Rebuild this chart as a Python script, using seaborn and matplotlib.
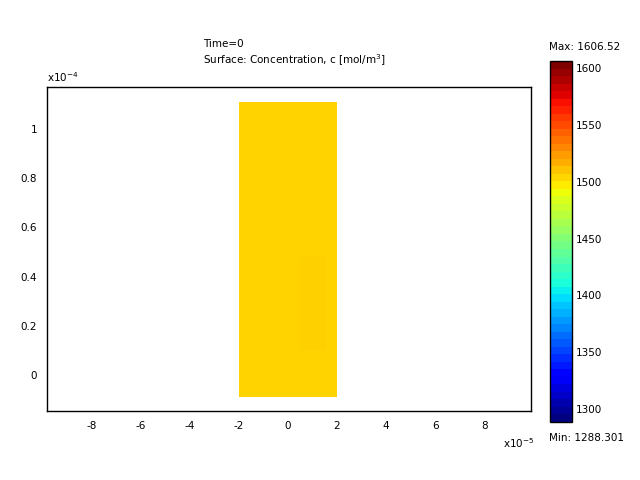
import numpy as np
import matplotlib
matplotlib.use("Agg")
import matplotlib.pyplot as plt
import seaborn as sns
from matplotlib.colors import ListedColormap, Normalize

# ---- data ----
x_edges = [-2.0e-5, 0.5e-5, 0.85e-5, 1.25e-5, 1.55e-5, 2.0e-5]
y_edges = [-0.09e-4, 0.10e-4, 0.48e-4, 0.52e-4, 1.11e-4]
conc = [
    [1506.0, 1506.0, 1506.0, 1506.0, 1506.0],
    [1506.0, 1507.2, 1507.2, 1507.2, 1506.0],
    [1506.0, 1506.0, 1507.0, 1506.0, 1506.0],
    [1506.0, 1506.0, 1506.0, 1506.0, 1506.0],
]
c_min, c_max = 1288.301, 1606.52
x_ticks = [-8, -6, -4, -2, 0, 2, 4, 6, 8]
y_ticks = [0, 0.2, 0.4, 0.6, 0.8, 1]
cbar_ticks = [1300, 1350, 1400, 1450, 1500, 1550, 1600]
title_lines = ["Time=0", "Surface: Concentration, c [mol/m$^3$]"]

sns.set_theme(style="white")
plt.rcParams['font.family'] = ['DejaVu Sans']
plt.rcParams['text.color'] = 'black'
fs = 7.5

fig = plt.figure(figsize=(6.4, 4.8), dpi=100)
ax = fig.add_axes([47/640, 1-411/480, 484/640, 324/480])

norm = Normalize(vmin=c_min, vmax=c_max)
ax.pcolormesh(np.array(x_edges), np.array(y_edges), np.array(conc),
              cmap="jet", norm=norm, shading="flat")
ax.set_xlim(-9.8e-5, 9.9e-5)
ax.set_ylim(-0.146e-4, 1.17e-4)
ax.set_xticks([v*1e-5 for v in x_ticks])
ax.set_xticklabels([f"{v:g}" for v in x_ticks], fontsize=fs)
ax.set_yticks([v*1e-4 for v in y_ticks])
ax.set_yticklabels([f"{v:g}" for v in y_ticks], fontsize=fs)
ax.tick_params(length=0, pad=7, colors="black")
for s in ax.spines.values():
    s.set_color("black")
    s.set_linewidth(1.0)
ax.set_facecolor("white")

fig.text(47/640, 1-82/480, "x10$^{-4}$", fontsize=fs, ha="left", va="baseline")
fig.text(503/640, 1-448/480, "x10$^{-5}$", fontsize=fs, ha="left", va="baseline")
fig.text(203/640, 1-47/480, title_lines[0], fontsize=fs, ha="left", va="baseline")
fig.text(203/640, 1-64/480, title_lines[1], fontsize=fs, ha="left", va="baseline")

# colorbar
jet = plt.get_cmap("jet")
cb_cmap = ListedColormap(jet(np.linspace(0, 1, 48)))
cax = fig.add_axes([550/640, 1-422/480, 22/640, 361/480])
sm = matplotlib.cm.ScalarMappable(norm=norm, cmap=cb_cmap)
cb = fig.colorbar(sm, cax=cax)
cb.set_ticks(cbar_ticks)
cb.ax.tick_params(direction="in", left=True, right=True, length=4, width=0.8,
                  labelsize=fs, colors="black", pad=3)
cb.outline.set_edgecolor("black")
cb.outline.set_linewidth(1.0)
fig.text(549/640, 1-50/480, f"Max: {c_max:g}", fontsize=fs, ha="left", va="baseline")
fig.text(549/640, 1-441/480, f"Min: {c_min}", fontsize=fs, ha="left", va="baseline")

fig.savefig("out.png", dpi=100)
